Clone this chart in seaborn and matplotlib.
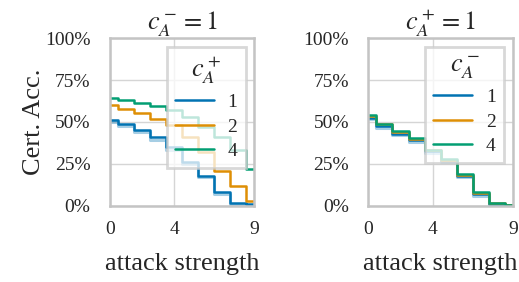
import numpy as np
import pandas as pd
import seaborn as sns
import matplotlib.pyplot as plt

strength = [0, 1, 2, 3, 4, 5, 6, 7, 8, 9]

# left panel: c_A^- = 1, lines for c_A^+
left_c1 = [0.51, 0.49, 0.45, 0.41, 0.35, 0.26, 0.18, 0.08, 0.02, 0.01]
left_c2 = [0.60, 0.58, 0.555, 0.52, 0.48, 0.41, 0.32, 0.21, 0.12, 0.03]
left_c4 = [0.64, 0.63, 0.615, 0.595, 0.57, 0.53, 0.47, 0.41, 0.33, 0.22]
left_c1_light = [0.50, 0.475, 0.44, 0.395, 0.335, 0.25, 0.17, 0.07, 0.012, 0.005]

# right panel: c_A^+ = 1, lines for c_A^-
right_c1 = [0.525, 0.475, 0.43, 0.39, 0.325, 0.27, 0.18, 0.07, 0.012, 0.004]
right_c2 = [0.535, 0.485, 0.44, 0.40, 0.33, 0.275, 0.185, 0.075, 0.016, 0.006]
right_c4 = [0.54, 0.49, 0.445, 0.405, 0.335, 0.28, 0.19, 0.08, 0.02, 0.008]
right_c1_light = [0.515, 0.465, 0.42, 0.38, 0.315, 0.26, 0.17, 0.06, 0.006, 0.002]

levels = ["1", "2", "4"]
yticks = [0, 0.25, 0.5, 0.75, 1.0]
ytick_labels = ["0%", "25%", "50%", "75%", "100%"]
xticks = [0, 4, 9]

sns.set_theme(style="whitegrid")
plt.rcParams["font.family"] = ["Liberation Serif", "DejaVu Serif"]
plt.rcParams["mathtext.fontset"] = "stix"

pal = sns.color_palette("colorblind", 3)


def long_df(vals, col):
    rows = []
    for lvl, v in zip(levels, vals):
        for x, y in zip(strength, v):
            rows.append({"strength": x, "acc": y, col: lvl})
    return pd.DataFrame(rows)


fig, axes = plt.subplots(1, 2, figsize=(5.19, 2.82), dpi=100)
fig.subplots_adjust(left=0.212, right=0.988, bottom=0.27, top=0.865, wspace=0.79)

panels = [
    (axes[0], [left_c1, left_c2, left_c4], left_c1_light, "$c_A^+$", "$c_A^- = 1$"),
    (axes[1], [right_c1, right_c2, right_c4], right_c1_light, "$c_A^-$", "$c_A^+ = 1$"),
]

for ax, vals, light, hue_name, title in panels:
    ax.plot(strength, light, drawstyle="steps-mid", color=pal[0], alpha=0.35, lw=2.2)
    df = long_df(vals, hue_name)
    sns.lineplot(data=df, x="strength", y="acc", hue=hue_name, palette=pal,
                 drawstyle="steps-mid", lw=1.8, ax=ax)
    ax.set_xlim(0, 9)
    ax.set_ylim(0, 1)
    ax.set_xticks(xticks)
    ax.set_xticklabels([str(t) for t in xticks], fontsize=14)
    ax.set_yticks(yticks)
    ax.set_yticklabels(ytick_labels, fontsize=14)
    ax.tick_params(axis="x", length=0, pad=11)
    ax.tick_params(axis="y", length=0, pad=14)
    ax.set_xlabel("attack strength", fontsize=19, labelpad=11)
    ax.set_ylabel("")
    ax.set_title(title, fontsize=19, pad=6)
    for s in ax.spines.values():
        s.set_color("#c4c4c4")
        s.set_linewidth(1.8)
    ax.grid(color="#d5d5d5", lw=1.0)
    h, l = ax.get_legend_handles_labels()
    leg = ax.legend(h, l, title=hue_name, loc="upper right", fontsize=14,
                    title_fontsize=19, fancybox=False, framealpha=0.75,
                    borderaxespad=0.45, handlelength=2.0, labelspacing=0.36,
                    handletextpad=0.7, borderpad=0.42)
    leg.get_frame().set_edgecolor("#cccccc")
    leg.get_frame().set_linewidth(2.0)

axes[0].set_ylabel("Cert. Acc.", fontsize=19, labelpad=0)

fig.savefig("out.png", dpi=100)
